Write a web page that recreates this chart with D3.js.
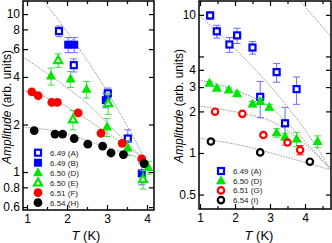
<!DOCTYPE html>
<html>
<head>
<meta charset="utf-8">
<script src="https://cdn.jsdelivr.net/npm/d3@7"></script>
<style>
  body { margin: 0; background: #fff; }
  svg text { font-family: "Liberation Sans", Arial, sans-serif; }
  .fit { fill: none; stroke: #8a8a8a; stroke-width: 0.9; stroke-dasharray: 1.5,1.2; }
</style>
</head>
<body>
<svg id="chart" width="332" height="243"></svg>
<script>
// ---- data: [T (K), amplitude, error] ----
const leftA = [[1.8, 7.8, 0.6], [2.17, 4.75, 0.45], [3.02, 3.15, 0.25], [3.52, 1.63, 0.22]];
const leftB = [[2.03, 6.4, 0.7], [2.18, 6.4, 0.7], [2.97, 2.85, 0.3], [3.87, 0.98, 0.15]];
const leftD = [[1.6, 4.05, 0.5], [2.09, 3.88, 0.45], [2.49, 3.34, 0.4], [3.0, 1.93, 0.25], [3.52, 1.42, 0.15], [4.03, 1.07, 0.1]];
const leftE = [[1.78, 5.1, 0.5], [2.15, 2.15, 0.3], [3.03, 2.72, 0.4], [3.9, 0.9, 0.12]];
const leftF = [[1.12, 3.22, 0], [1.28, 3.04, 0], [1.62, 2.76, 0], [1.76, 2.76, 0], [2.28, 2.37, 0], [2.85, 1.76, 0], [3.38, 1.52, 0], [3.87, 1.21, 0]];
const leftH = [[1.18, 1.83, 0], [1.7, 1.74, 0], [1.89, 1.74, 0], [2.18, 1.63, 0], [2.52, 1.5, 0], [2.89, 1.46, 0], [3.1, 1.32, 0], [3.41, 1.29, 0], [3.93, 1.13, 0]];

const rightA = [[1.29, 9.9, 0.6], [1.48, 7.6, 0.8], [1.84, 6.1, 0.75], [2.06, 7.1, 0.9], [2.5, 5.8, 0.6], [2.72, 2.55, 0.75], [3.19, 3.85, 0.6], [3.43, 1.64, 0.5], [3.76, 2.9, 0.65]];
const rightD = [[1.27, 3.2, 0.1], [1.48, 2.94, 0.1], [1.82, 2.86, 0.1], [2.06, 2.68, 0.1], [2.5, 2.26, 0.1], [2.72, 2.36, 0.1], [2.98, 2.14, 0.1], [3.19, 1.4, 0.1], [3.43, 1.31, 0.08], [3.76, 1.26, 0.15], [4.36, 1.21, 0.12]];
const rightG = [[1.43, 1.99, 0], [2.21, 1.92, 0], [2.81, 1.35, 0], [3.5, 1.19, 0], [3.86, 1.05, 0.08]];
const rightI = [[1.31, 1.21, 0], [2.72, 1.01, 0], [4.14, 0.865, 0]];

// fit curves (dotted)
const fitLeftAB = [[1.4, 12.26], [2.45, 5.34], [2.95, 3.4], [3.425, 2.13], [3.95, 1.2]];
const fitLeftD = [[0.9, 5.34], [1.875, 3.61], [2.575, 2.62], [3.325, 1.69], [3.95, 1.2]];
const fitLeftF = [[0.9, 3.3], [1.825, 2.73], [2.825, 1.9], [3.95, 1.2]];
const fitLeftH = [[0.9, 1.93], [1.825, 1.79], [2.825, 1.48], [3.95, 1.2]];
const fitRightA = [[0.97, 10.0], [1.943, 5.87], [3.343, 2.42], [3.8, 1.73], [4.75, 0.753]];
const fitRightD = [[0.97, 3.38], [2.143, 2.77], [3.0, 2.15], [3.857, 1.33], [4.75, 0.753]];
const fitRightG = [[0.97, 2.19], [2.143, 1.95], [3.0, 1.71], [3.857, 1.24], [4.75, 0.753]];
const fitRightI = [[0.97, 1.28], [2.143, 1.14], [3.343, 0.951], [4.75, 0.753]];
const fitRightX = [[3.83, 12.9], [4.75, 6.9]];

const leftLabels = ['6.49 (A)', '6.49 (B)', '6.50 (D)', '6.50 (E)', '6.51 (F)', '6.54 (H)'];
const rightLabels = ['6.49 (A)', '6.50 (D)', '6.51 (G)', '6.54 (I)'];

const leftYTicks = [0.6, 0.8, 1, 2, 4, 6, 8, 10];
const rightYTicks = [0.5, 1, 2, 3, 4, 10];
const rightYMinor = [5];
const xMajor = [1, 2, 3, 4];
const xMinorLeft = [1.5, 2.5, 3.5];
const xMinorRight = [1.5, 2.5, 3.5, 4.5];

const svg = d3.select('#chart');

const BLUE = '#0000ff', GREEN = '#00e600', RED = '#ff0000', BLACK = '#000000';

// draw one marker at (cx, cy)
function marker(g, type, color, cx, cy) {
  if (type === 'sqOpen') {
    g.append('rect').attr('x', cx - 3).attr('y', cy - 3).attr('width', 6).attr('height', 6)
      .attr('fill', '#fff').attr('stroke', color).attr('stroke-width', 2.2);
  } else if (type === 'sqFill') {
    g.append('rect').attr('x', cx - 4).attr('y', cy - 4).attr('width', 8).attr('height', 8)
      .attr('fill', color);
  } else if (type === 'triFill') {
    g.append('path').attr('d', `M${cx},${cy - 5.5}L${cx + 5},${cy + 3.5}L${cx - 5},${cy + 3.5}Z`)
      .attr('fill', color);
  } else if (type === 'triOpen') {
    g.append('path').attr('d', `M${cx},${cy - 4.3}L${cx + 4},${cy + 2.8}L${cx - 4},${cy + 2.8}Z`)
      .attr('fill', '#fff').attr('stroke', color).attr('stroke-width', 2.2);
  } else if (type === 'cirFill') {
    g.append('circle').attr('cx', cx).attr('cy', cy).attr('r', 4.4).attr('fill', color);
  } else if (type === 'cirOpen') {
    g.append('circle').attr('cx', cx).attr('cy', cy).attr('r', 3.2)
      .attr('fill', '#fff').attr('stroke', color).attr('stroke-width', 2.2);
  }
}

function drawPanel(p) {
  const x = d3.scaleLinear().domain(p.xDomain).range([p.left, p.right]);
  const y = d3.scaleLog().domain(p.yDomain).range([p.bottom, p.top]);
  const g = svg.append('g');

  g.append('clipPath').attr('id', p.id + '-clip')
    .append('rect').attr('x', p.left).attr('y', p.top)
    .attr('width', p.right - p.left).attr('height', p.bottom - p.top);

  const plot = g.append('g').attr('clip-path', `url(#${p.id}-clip)`);

  // fit curves
  const line = d3.line().x(d => x(d[0])).y(d => y(d[1])).curve(d3.curveMonotoneX);
  p.fits.forEach(f => plot.append('path').attr('class', 'fit').attr('d', line(f)));

  // series: error bars then markers
  p.series.forEach(s => {
    const errColor = s.color === BLUE ? '#6b6bff' : (s.color === GREEN ? '#44dd44' : s.color);
    s.data.forEach(d => {
      if (d[2] > 0) {
        const cx = x(d[0]), y1 = y(d[1] + d[2]), y2 = y(d[1] - d[2]);
        plot.append('line').attr('x1', cx).attr('x2', cx).attr('y1', y1).attr('y2', y2)
          .attr('stroke', errColor).attr('stroke-width', 1);
        [y1, y2].forEach(yy => plot.append('line').attr('x1', cx - 3.5).attr('x2', cx + 3.5)
          .attr('y1', yy).attr('y2', yy).attr('stroke', errColor).attr('stroke-width', 1));
      }
    });
    s.data.forEach(d => marker(plot, s.type, s.color, x(d[0]), y(d[1])));
  });

  // axes with inward ticks
  const fmt = d => String(d);
  const bottomAxis = d3.axisBottom(x).tickValues(xMajor).tickSizeInner(-5).tickSizeOuter(0).tickPadding(4).tickFormat(fmt);
  const bottomMinor = d3.axisBottom(x).tickValues(p.xMinor).tickSizeInner(-3).tickSizeOuter(0).tickFormat('');
  const topAxis = d3.axisTop(x).tickValues(xMajor).tickSizeInner(-5).tickSizeOuter(0).tickFormat('');
  const topMinor = d3.axisTop(x).tickValues(p.xMinor).tickSizeInner(-3).tickSizeOuter(0).tickFormat('');
  const leftAxis = d3.axisLeft(y).tickValues(p.yTicks).tickSizeInner(-5).tickSizeOuter(0).tickPadding(3).tickFormat(fmt);
  const rightAxis = d3.axisRight(y).tickValues(p.yTicks.concat(p.yMinor)).tickSizeInner(-5).tickSizeOuter(0).tickFormat('');
  const leftMinor = d3.axisLeft(y).tickValues(p.yMinor).tickSizeInner(-5).tickSizeOuter(0).tickFormat('');

  const axes = [
    [bottomAxis, `translate(0,${p.bottom})`],
    [bottomMinor, `translate(0,${p.bottom})`],
    [topAxis, `translate(0,${p.top})`],
    [topMinor, `translate(0,${p.top})`],
    [leftAxis, `translate(${p.left},0)`],
    [leftMinor, `translate(${p.left},0)`],
    [rightAxis, `translate(${p.right},0)`]
  ];
  axes.forEach(([ax, tr]) => {
    const a = g.append('g').attr('transform', tr).call(ax);
    a.select('.domain').remove();
    a.selectAll('line').attr('stroke', '#000').attr('stroke-width', 1.2);
    a.selectAll('text').attr('font-size', 12).attr('fill', '#000')
      .attr('font-family', '"Liberation Sans", Arial, sans-serif');
  });

  // frame
  g.append('rect').attr('x', p.left).attr('y', p.top)
    .attr('width', p.right - p.left).attr('height', p.bottom - p.top)
    .attr('fill', 'none').attr('stroke', '#000').attr('stroke-width', 1.5);

  // axis titles
  const xt = g.append('text').attr('x', p.xTitleX).attr('y', 240)
    .attr('text-anchor', 'middle').attr('font-size', 13);
  xt.append('tspan').attr('font-style', 'italic').text('T');
  xt.append('tspan').text(' (K)');

  const yt = g.append('text')
    .attr('transform', `translate(${p.yTitleX},${p.yTitleY}) rotate(-90)`)
    .attr('text-anchor', 'middle').attr('font-size', 12);
  yt.append('tspan').attr('font-style', 'italic').text('Amplitude');
  yt.append('tspan').text(' (arb. units)');

  // legend
  p.series.forEach((s, i) => {
    const ly = p.legendY + i * p.legendStep;
    marker(g, s.type, s.color, p.legendX, ly);
    g.append('text').attr('x', p.legendX + 12).attr('y', ly + 3)
      .attr('font-size', 8).attr('fill', '#222').text(s.label);
  });
}

drawPanel({
  id: 'left',
  left: 23, right: 154, top: 1, bottom: 210,
  xDomain: [0.9, 4.175], yDomain: [0.575, 12.1],
  xMinor: xMinorLeft, yTicks: leftYTicks, yMinor: [],
  fits: [fitLeftAB, fitLeftD, fitLeftF, fitLeftH],
  series: [
    { data: leftA, type: 'sqOpen', color: BLUE, label: leftLabels[0] },
    { data: leftB, type: 'sqFill', color: BLUE, label: leftLabels[1] },
    { data: leftD, type: 'triFill', color: GREEN, label: leftLabels[2] },
    { data: leftE, type: 'triOpen', color: GREEN, label: leftLabels[3] },
    { data: leftF, type: 'cirFill', color: RED, label: leftLabels[4] },
    { data: leftH, type: 'cirFill', color: BLACK, label: leftLabels[5] }
  ],
  legendX: 38, legendY: 152.7, legendStep: 10,
  xTitleX: 86, yTitleX: 11, yTitleY: 107
});

drawPanel({
  id: 'right',
  left: 199, right: 331, top: 1, bottom: 209,
  xDomain: [0.971, 4.743], yDomain: [0.393, 12.6],
  xMinor: xMinorRight, yTicks: rightYTicks, yMinor: rightYMinor,
  fits: [fitRightA, fitRightD, fitRightG, fitRightI, fitRightX],
  series: [
    { data: rightA, type: 'sqOpen', color: BLUE, label: rightLabels[0] },
    { data: rightD, type: 'triFill', color: GREEN, label: rightLabels[1] },
    { data: rightG, type: 'cirOpen', color: RED, label: rightLabels[2] },
    { data: rightI, type: 'cirOpen', color: BLACK, label: rightLabels[3] }
  ],
  legendX: 221, legendY: 171, legendStep: 9.7,
  xTitleX: 259, yTitleX: 183, yTitleY: 106
});
</script>
</body>
</html>
